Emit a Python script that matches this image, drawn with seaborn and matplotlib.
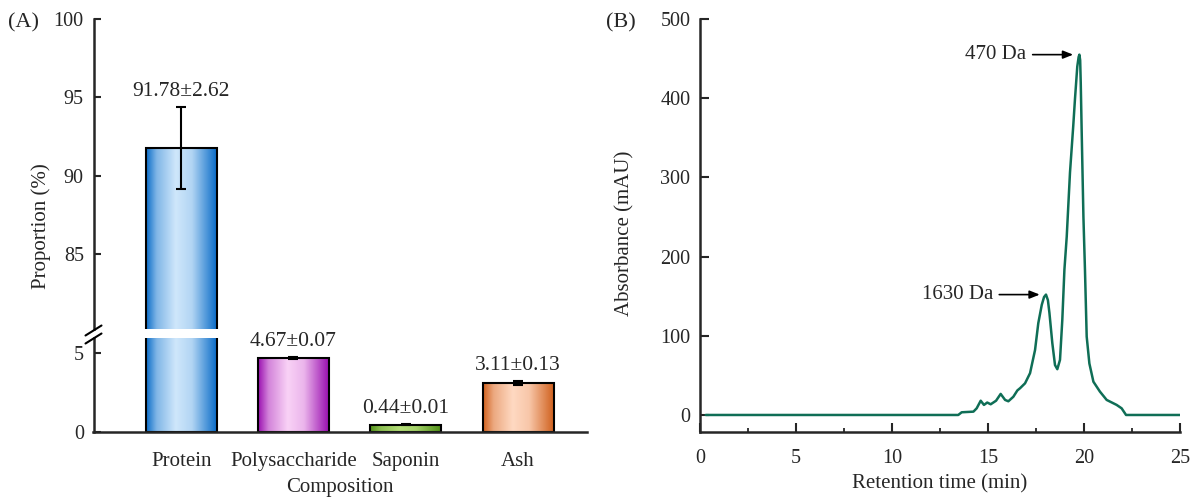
"""Composition bar chart with broken axis and GPC chromatogram."""
import matplotlib

matplotlib.use("Agg")
import matplotlib.pyplot as plt
import numpy as np
import pandas as pd
import seaborn as sns
from matplotlib.colors import LinearSegmentedColormap, to_rgb
from matplotlib.lines import Line2D
from matplotlib.ticker import MultipleLocator

# ---- panel A data -------------------------------------------------------
components = ["Protein", "Polysaccharide", "Saponin", "Ash"]
proportion = [91.78, 4.67, 0.44, 3.11]
proportion_sd = [2.62, 0.07, 0.01, 0.13]

# ---- panel B data -------------------------------------------------------
retention_time = [0.3, 13.45, 13.63, 14.24, 14.41, 14.62, 14.79, 14.96, 15.14,
                  15.42, 15.66, 15.89, 16.06, 16.32, 16.53, 16.67, 16.93, 17.19,
                  17.45, 17.62, 17.80, 17.92, 18.02, 18.12, 18.20, 18.35, 18.49,
                  18.61, 18.75, 18.87, 18.98, 19.10, 19.27, 19.44, 19.53, 19.65,
                  19.72, 19.76, 19.80, 19.83, 19.88, 19.97, 20.05, 20.14, 20.28,
                  20.49, 20.83, 21.18, 21.70, 21.96, 22.19, 25.0]
absorbance = [0, 0, 3.4, 4.2, 8.4, 18, 12.7, 15.7, 13.5,
              18, 26.6, 19, 17.3, 23, 31, 33.8, 40, 52.8,
              82, 116, 139, 149, 152, 145, 128.7, 90.7, 63,
              57.8, 69.6, 120, 183.5, 225, 306, 365, 399, 440,
              452, 455, 448, 420, 357, 250, 183.5, 99, 65,
              42, 29.5, 19, 12.7, 8.4, 0, 0]

peak_labels = ["1630 Da", "470 Da"]
peak_rt = [18.02, 19.76]
peak_abs = [152, 455]

# ---- styling -------------------------------------------------------------
bar_colors = {
    "Protein": ("#0A6CC8", "#CFE7FB"),
    "Polysaccharide": ("#9A0FB0", "#F9D2F6"),
    "Saponin": ("#4F8F16", "#B4DE78"),
    "Ash": ("#D0611E", "#FFD9C2"),
}
line_color = "#0F6E56"

sns.set_theme(style="ticks")
plt.rcParams["font.family"] = ["Liberation Serif", "DejaVu Serif"]
plt.rcParams["axes.linewidth"] = 1.8

W, H = 1197, 498
fig = plt.figure(figsize=(W / 100, H / 100), dpi=100)


def rect(x0, y0, x1, y1):
    # pixel box (top-left origin) -> figure fraction rect
    return [x0 / W, 1 - y1 / H, (x1 - x0) / W, (y1 - y0) / H]


ax_top = fig.add_axes(rect(93.5, 19, 586.7, 329))
ax_bot = fig.add_axes(rect(93.5, 338.3, 586.7, 431.5))
ax_b = fig.add_axes(rect(700, 19, 1180, 432))


def gradient_cmap(dark, light):
    d, l = np.array(to_rgb(dark)), np.array(to_rgb(light))
    mid = d * 0.4 + l * 0.6
    return LinearSegmentedColormap.from_list(
        "g", [(0, d), (0.15, mid), (0.42, l), (0.65, l * 0.85 + d * 0.15),
              (0.85, mid * 0.6 + d * 0.4), (1, d)])


bars = pd.DataFrame({"component": components, "proportion": proportion})
grad = np.linspace(0, 1, 256).reshape(1, -1)

for ax, ylim in ((ax_top, (80.2, 100)), (ax_bot, (0, 5.95))):
    sns.barplot(data=bars, x="component", y="proportion", ax=ax, width=0.63,
                color="white", edgecolor="black", linewidth=1.5,
                errorbar=None, zorder=2)
    for patch, comp in zip(ax.patches, components):
        patch.set_facecolor("none")
        x0, y0 = patch.get_x(), patch.get_y()
        w, h = patch.get_width(), patch.get_height()
        # image stays clipped to the axes, so the break shows through
        ax.imshow(grad, extent=(x0, x0 + w, y0, y0 + h), aspect="auto",
                  cmap=gradient_cmap(*bar_colors[comp]), origin="lower",
                  interpolation="bicubic", zorder=1.5)
    ax.errorbar(range(len(components)), proportion, yerr=proportion_sd,
                fmt="none", ecolor="black", elinewidth=1.5, capsize=3.5,
                capthick=1.5, zorder=3)
    ax.set_xlim(-0.78, 3.61)
    ax.set_ylim(*ylim)
    ax.set_ylabel("")
    ax.spines["top"].set_visible(False)
    ax.spines["right"].set_visible(False)
    ax.tick_params(axis="y", direction="in", length=5, width=1.5, pad=7,
                   labelsize=14.5)

ax_top.spines["bottom"].set_visible(False)
ax_top.tick_params(axis="x", bottom=False, labelbottom=False)
ax_top.set_xlabel("")
ax_top.set_yticks([85, 90, 95, 100])
ax_bot.set_yticks([0, 5])
ax_bot.tick_params(axis="x", length=0, pad=15, labelsize=15)
ax_bot.set_xlabel("Composition", fontsize=15, labelpad=5)

for i, (v, e) in enumerate(zip(proportion, proportion_sd)):
    ax = ax_top if v > 80 else ax_bot
    ax.annotate(f"{v:.2f}±{e:.2f}", xy=(i, v + e), xytext=(0, 8),
                textcoords="offset points", ha="center", va="baseline",
                fontsize=15.5)

# axis-break marks on the left spine
for yc in (330.5, 338.5):
    fig.add_artist(Line2D([(93.5 - 8) / W, (93.5 + 8) / W],
                          [1 - (yc + 5) / H, 1 - (yc - 5) / H],
                          color="black", lw=1.5))

fig.text(41 / W, 1 - 226 / H, "Proportion (%)", rotation=90, ha="center",
         va="center", fontsize=15)

# ---- panel B -------------------------------------------------------------
chrom = pd.DataFrame({"rt": retention_time, "absorbance": absorbance})
sns.lineplot(data=chrom, x="rt", y="absorbance", ax=ax_b, color=line_color,
             linewidth=1.8, estimator=None, sort=False)
ax_b.set_xlim(0, 25)
ax_b.set_ylim(-21.5, 500)
ax_b.xaxis.set_major_locator(MultipleLocator(5))
ax_b.xaxis.set_minor_locator(MultipleLocator(2.5))
ax_b.set_yticks(range(0, 501, 100))
ax_b.spines["top"].set_visible(False)
ax_b.spines["right"].set_visible(False)
ax_b.tick_params(axis="both", which="major", direction="in", length=6.5,
                 width=1.5, labelsize=14.5)
ax_b.tick_params(axis="x", which="minor", direction="in", length=3, width=1.3)
ax_b.tick_params(axis="x", which="major", pad=12.5)
ax_b.tick_params(axis="y", which="major", pad=7)
ax_b.set_xlabel("Retention time (min)", fontsize=15, labelpad=4)
ax_b.set_ylabel("")
fig.text(625 / W, 1 - 233 / H, "Absorbance (mAU)", rotation=90, ha="center",
         va="center", fontsize=15)

for lab, t, a in zip(peak_labels, peak_rt, peak_abs):
    ax_b.annotate(lab, xy=(t, a), xytext=(-38, 0), textcoords="offset points",
                  ha="right", va="center", fontsize=15,
                  arrowprops=dict(arrowstyle="-|>,head_length=0.5,head_width=0.2",
                                  color="black", lw=1.2, mutation_scale=12,
                                  shrinkA=2, shrinkB=4.5))

fig.text(8 / W, 1 - 23 / H, "(A)", ha="left", va="center", fontsize=16)
fig.text(606 / W, 1 - 23 / H, "(B)", ha="left", va="center", fontsize=16)

fig.savefig("out.png", dpi=100)
